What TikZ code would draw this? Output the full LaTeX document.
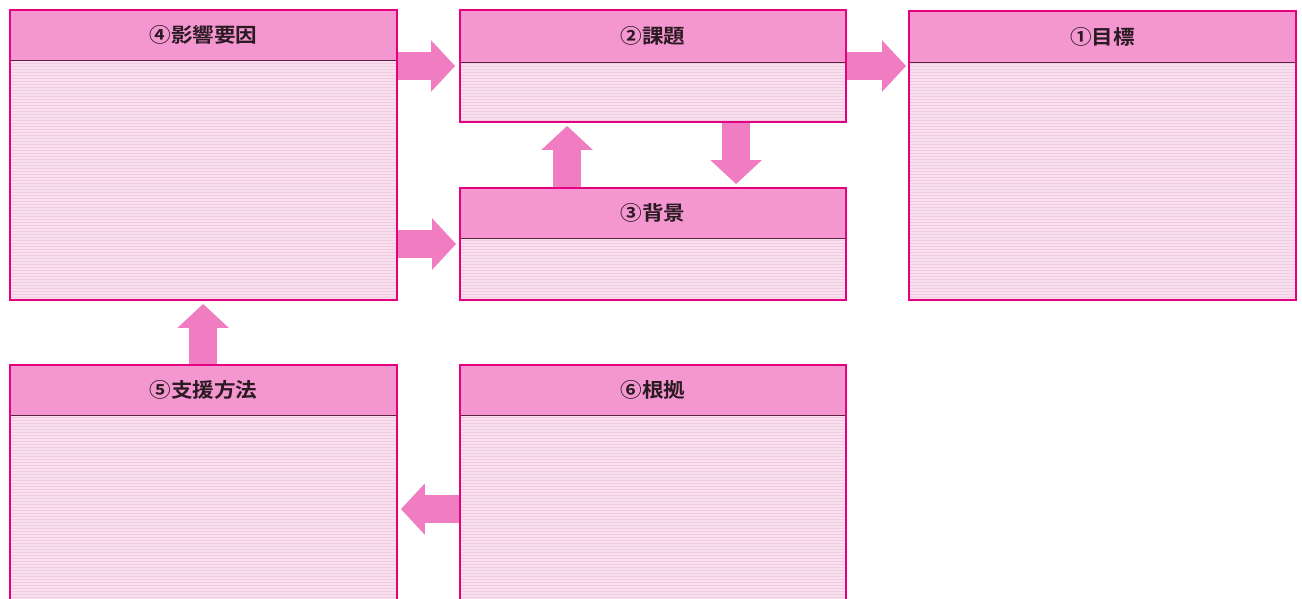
\documentclass[tikz,border=0pt]{standalone}
\usepackage{fontspec}
\newfontfamily\jp{Noto Sans CJK JP}[BoldFont={Noto Sans CJK JP Bold}]
\usetikzlibrary{arrows.meta,calc,fit}
\definecolor{mag}{HTML}{E4007F}
\definecolor{headfill}{HTML}{F497D0}
\definecolor{bodyfill}{HTML}{F8DFEE}
\definecolor{linecol}{HTML}{F1CBE2}
\definecolor{divcol}{HTML}{5A2340}
\definecolor{arrowcol}{HTML}{F07DC2}
\definecolor{txt}{HTML}{2A1A22}
\tikzset{
  frame/.style={draw=mag,line width=1.8pt,inner sep=0pt},
  header/.style={fill=headfill,inner sep=0pt},
  title/.style={inner sep=0pt,xscale=1.08,font=\jp\bfseries\fontsize{20}{20}\selectfont,text=txt},
  blockarrow/.style={draw=arrowcol,line width=28pt,-{Triangle[width=50pt,length=24pt]}},
}
% name x1 y1 x2 y2 yh title
\newcommand\panelbox[7]{%
  \fill[bodyfill] (#2,#6) rectangle (#4,#5);
  \draw[linecol,line width=0.5pt,xstep=5000pt,ystep=3pt] (#2,#6) grid (#4,#5);
  \node[header,fit={(#2,#3) (#4,#6)}] (#1h) {};
  \node[title] (#1t) at ($(#2,#3)!0.5!(#4,#6)$) {#7};
  \draw[divcol,line width=1pt] (#2,#6) -- (#4,#6);
  \node[frame,fit={(#2,#3) (#4,#5)}] (#1) {};
}
\begin{document}
\begin{tikzpicture}[x=1pt,y=-1pt]
\useasboundingbox (0,0) rectangle (1302,598);
\clip (0,0) rectangle (1302,598);
\fill[white] (0,0) rectangle (1302,598);
\panelbox{n4}{10}{10}{397}{300}{60}{④影響要因}
\panelbox{n2}{460}{10}{846}{122}{62}{②課題}
\panelbox{n1}{909}{11}{1296}{300}{62}{①目標}
\panelbox{n3}{460}{188}{846}{300}{238}{③背景}
\panelbox{n5}{10}{365}{397}{620}{415}{⑤支援方法}
\panelbox{n6}{460}{365}{846}{620}{415}{⑥根拠}
% arrows
\draw[blockarrow,shorten >=4pt] (n4.east |- n2.center) -- (n2.west);
\draw[blockarrow,shorten >=2pt] (n2.east) -- (n1.west |- n2.center);
\draw[blockarrow,shorten >=3pt] (n4.east |- n3.center) -- (n3.west);
\draw[blockarrow,shorten >=3pt] ($(n3.north west)+(108,0)$) -- ($(n2.south west)+(108,0)$);
\draw[blockarrow,shorten >=3pt] ($(n2.south west)+(277,0)$) -- ($(n3.north west)+(277,0)$);
\draw[blockarrow,shorten >=3pt] ($(n5.north west)+(194,0)$) -- ($(n4.south west)+(194,0)$);
\coordinate (a65) at ($(n6.north west)+(0,145)$);
\draw[blockarrow,shorten >=3pt] (a65) -- (n5.east |- a65);
\end{tikzpicture}
\end{document}
